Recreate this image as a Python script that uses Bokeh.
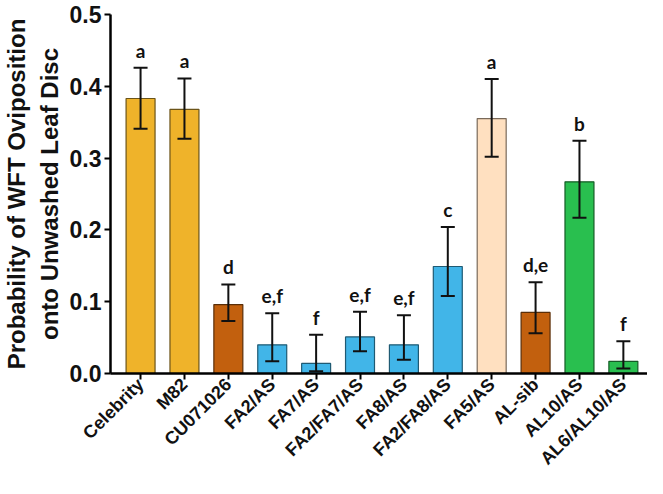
import math
from bokeh.plotting import figure
from bokeh.models import ColumnDataSource, Range1d, FixedTicker, Whisker, TeeHead
from bokeh.embed import file_html
from bokeh.resources import INLINE
from bokeh.core.properties import value

lines = ["Celebrity", "M82", "CU071026", "FA2/AS", "FA7/AS", "FA2/FA7/AS",
         "FA8/AS", "FA2/FA8/AS", "FA5/AS", "AL-sib", "AL10/AS", "AL6/AL10/AS"]
prob = [0.383, 0.368, 0.096, 0.040, 0.014, 0.051, 0.040, 0.149, 0.355, 0.085, 0.267, 0.017]
err_upper = [0.426, 0.411, 0.124, 0.084, 0.054, 0.086, 0.081, 0.204, 0.410, 0.127, 0.324, 0.045]
err_lower = [0.341, 0.327, 0.073, 0.017, 0.003, 0.031, 0.019, 0.108, 0.302, 0.056, 0.217, 0.007]
letters = ["a", "a", "d", "e,f", "f", "e,f", "e,f", "c", "a", "d,e", "b", "f"]

GOLD, ORANGE, BLUE, PEACH, GREEN = "#EFB32A", "#C2600E", "#41B5E8", "#FFE0C0", "#29BF4F"
colors = [GOLD, GOLD, ORANGE, BLUE, BLUE, BLUE, BLUE, BLUE, PEACH, ORANGE, GREEN, GREEN]
outlines = ["#6b5418", "#6b5418", "#5a2e08", "#1f5a73", "#1f5a73", "#1f5a73", "#1f5a73",
            "#1f5a73", "#7a6a5a", "#5a2e08", "#145c26", "#145c26"]
y_ticks = [0.0, 0.1, 0.2, 0.3, 0.4, 0.5]

xs = list(range(len(lines)))
src = ColumnDataSource(dict(x=xs, prob=prob, up=err_upper, lo=err_lower,
                            let=letters, color=colors, oc=outlines))

p = figure(width=647, height=478, output_backend="svg", toolbar_location=None,
           x_range=Range1d(-0.685, 11.55), y_range=Range1d(0, 0.5),
           min_border_left=93, min_border_top=14, min_border_right=0, min_border_bottom=90)

p.vbar(x="x", top="prob", bottom=0, width=0.66, fill_color="color",
       line_color="oc", line_width=1.2, source=src)

wh = Whisker(base="x", upper="up", lower="lo", source=src, line_color="#111111", line_width=2,
             level="annotation",
             upper_head=TeeHead(size=14, line_width=2, line_color="#111111"),
             lower_head=TeeHead(size=14, line_width=2, line_color="#111111"))
p.add_layout(wh)

p.text(x="x", y="up", text="let", source=src, text_align="center", text_baseline="bottom",
       y_offset=-6, text_font=value("Lato"), text_font_style="bold",
       text_font_size="19px", text_color="#111111")

p.grid.visible = False
p.outline_line_color = None

# x axis
p.xaxis.ticker = FixedTicker(ticks=xs)
p.xaxis.major_label_overrides = {i: lab for i, lab in enumerate(lines)}
p.xaxis.major_label_orientation = math.pi / 4
p.xaxis.major_label_text_font = "Liberation Sans"
p.xaxis.major_label_text_font_style = "bold"
p.xaxis.major_label_text_font_size = "18px"
p.xaxis.major_label_text_color = "#111111"
p.xaxis.axis_line_width = 2.5
p.xaxis.major_tick_line_width = 2
p.xaxis.major_tick_out = 6
p.xaxis.major_tick_in = 0
p.xaxis.minor_tick_line_color = None
p.xaxis.major_label_standoff = 2

# y axis
p.yaxis.ticker = FixedTicker(ticks=y_ticks)
p.yaxis.major_label_overrides = {t: f"{t:.1f}" for t in y_ticks}
p.yaxis.major_label_text_font = "Liberation Sans"
p.yaxis.major_label_text_font_style = "bold"
p.yaxis.major_label_text_font_size = "23px"
p.yaxis.major_label_text_color = "#111111"
p.yaxis.axis_line_width = 2.5
p.yaxis.major_tick_line_width = 2
p.yaxis.major_tick_out = 6
p.yaxis.major_tick_in = 0
p.yaxis.minor_tick_line_color = None
p.yaxis.major_label_standoff = 3
p.yaxis.axis_label = "Probability of WFT Oviposition\nonto Unwashed Leaf Disc"
p.yaxis.axis_label_text_font = "Liberation Sans"
p.yaxis.axis_label_text_font_style = "bold"
p.yaxis.axis_label_text_font_size = "24px"
p.yaxis.axis_label_text_color = "#111111"
p.yaxis.axis_label_standoff = 4

open("out.html", "w").write(file_html(p, INLINE))
